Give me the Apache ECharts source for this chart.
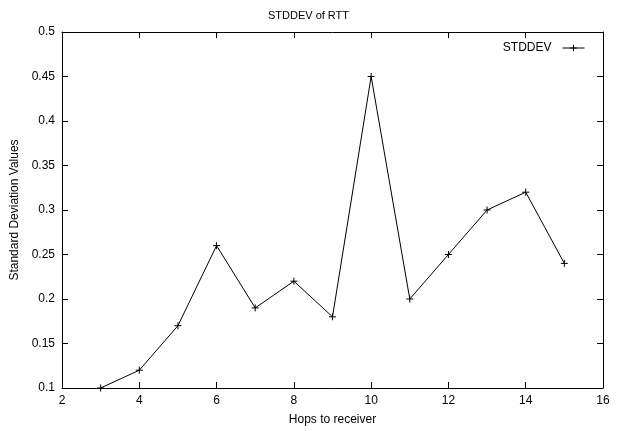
<!DOCTYPE html>
<html><head><meta charset="utf-8">
<script src="https://cdn.jsdelivr.net/npm/echarts@6/dist/echarts.min.js"></script>
<style>html,body{margin:0;padding:0;background:#fff}#c{width:617px;height:431px}</style>
</head><body><div id="c"></div>
<script>
const hops = [3,4,5,6,7,8,9,10,11,12,13,14,15];
const stddev = [0.10,0.12,0.17,0.26,0.19,0.22,0.18,0.45,0.20,0.25,0.30,0.32,0.24];
const xTicks = [2,4,6,8,10,12,14,16];
const yTicks = [0.1,0.15,0.2,0.25,0.3,0.35,0.4,0.45,0.5];

const font = 'Liberation Sans, Arial, sans-serif';
const chart = echarts.init(document.getElementById('c'), null, {renderer:'canvas'});
const plus = 'path://M0,5L10,5M5,0L5,10';
const baseAxisLine = {show:true, lineStyle:{color:'#000', width:1}};
const tick = {show:true, inside:true, length:6, lineStyle:{color:'#000', width:1}};
chart.setOption({
  animation:false,
  title:{text:'STDDEV of RTT', left:'center', top:5, textStyle:{fontFamily:font, fontSize:11, fontWeight:'normal', color:'#000'}},
  legend:{right:27, top:37, align:'right', itemWidth:22, itemHeight:8, itemGap:8,
    itemStyle:{borderWidth:1, borderColor:'#000', color:'#000'},
    lineStyle:{width:1, color:'#000'},
    textStyle:{fontFamily:font, fontSize:12, color:'#000', padding:[0,6,0,0]}, data:['STDDEV']},
  grid:{left:62, right:14, top:32, bottom:40, containLabel:false},
  xAxis:[
    {type:'value', min:xTicks[0], max:xTicks[xTicks.length-1], interval:2, position:'bottom',
     name:'Hops to receiver', nameLocation:'middle', nameGap:26,
     nameTextStyle:{fontFamily:font, fontSize:12, color:'#000'},
     axisLine:baseAxisLine, axisTick:tick, splitLine:{show:false},
     axisLabel:{fontFamily:font, fontSize:12, color:'#000', margin:7}},
    {type:'value', min:xTicks[0], max:xTicks[xTicks.length-1], interval:2, position:'top',
     axisLine:baseAxisLine, axisTick:tick, splitLine:{show:false}, axisLabel:{show:false}}
  ],
  yAxis:[
    {type:'value', min:yTicks[0], max:yTicks[yTicks.length-1], interval:0.05, position:'left',
     name:'Standard Deviation Values', nameLocation:'middle', nameGap:38,
     nameTextStyle:{fontFamily:font, fontSize:12, color:'#000'},
     axisLine:baseAxisLine, axisTick:tick, splitLine:{show:false},
     axisLabel:{fontFamily:font, fontSize:12, color:'#000', margin:7,
       formatter:v=>String(Math.round(v*100)/100)}},
    {type:'value', min:yTicks[0], max:yTicks[yTicks.length-1], interval:0.05, position:'right',
     axisLine:baseAxisLine, axisTick:tick, splitLine:{show:false}, axisLabel:{show:false}}
  ],
  series:[{
    name:'STDDEV', type:'line', xAxisIndex:0, yAxisIndex:0,
    data:hops.map((h,i)=>[h,stddev[i]]),
    symbol:plus, symbolSize:7, showSymbol:true,
    lineStyle:{color:'#000', width:1},
    itemStyle:{color:'#000', borderColor:'#000', borderWidth:1}
  }]
});
</script></body></html>
